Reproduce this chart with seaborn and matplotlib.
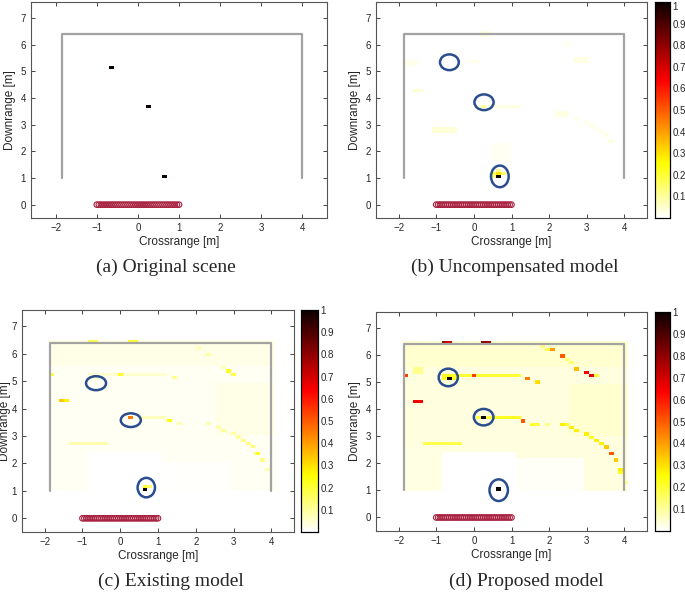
import numpy as np
import matplotlib
matplotlib.use("Agg")
import matplotlib.pyplot as plt
from matplotlib.patches import Ellipse
import seaborn as sns

# ---- scene ----
wall_x = [-1.85, -1.85, 4.0, 4.0]
wall_y = [1.0, 6.4, 6.4, 1.0]
array_x = [-1.0, -0.95, -0.9, -0.85, -0.8, -0.75, -0.7, -0.65, -0.6, -0.55, -0.5,
           -0.45, -0.4, -0.35, -0.3, -0.25, -0.2, -0.15, -0.1, -0.05, 0.0,
           0.05, 0.1, 0.15, 0.2, 0.25, 0.3, 0.35, 0.4, 0.45, 0.5,
           0.55, 0.6, 0.65, 0.7, 0.75, 0.8, 0.85, 0.9, 0.95, 1.0]
array_y = [0.0] * len(array_x)
x_ticks = [-2, -1, 0, 1, 2, 3, 4]
y_ticks = [0, 1, 2, 3, 4, 5, 6, 7]
cb_ticks = [0.1, 0.2, 0.3, 0.4, 0.5, 0.6, 0.7, 0.8, 0.9, 1.0]
cb_labels = ["0.1", "0.2", "0.3", "0.4", "0.5", "0.6", "0.7", "0.8", "0.9", "1"]
captions = ["(a) Original scene", "(b) Uncompensated model",
            "(c) Existing model", "(d) Proposed model"]

# image grid (cell size in metres)
GX0, DX, NX = -1.88, 0.13, 46
GY0, DY, NY = 0.99, 0.12, 46

# ---- (a) true targets: x, y, value ----
original_hot = [(-0.68, 5.15, 1.0), (0.26, 3.7, 1.0), (0.65, 1.0, 1.0)]

# ---- (b) uncompensated ----
uncomp_base = []
uncomp_streaks = [(-1.85, -1.5, 5.25, 5.4, 0.02), (-1.6, -1.4, 4.2, 4.35, 0.05),
                  (-0.2, 0.2, 5.3, 5.42, 0.02), (0.2, 0.4, 6.3, 6.45, 0.03),
                  (0.05, 1.3, 3.6, 3.78, 0.03), (-1.1, -0.4, 2.62, 2.85, 0.04),
                  (0.45, 1.0, 1.6, 2.3, 0.015), (2.7, 3.0, 5.35, 5.5, 0.03),
                  (2.2, 2.6, 3.3, 3.5, 0.03), (2.35, 2.5, 5.95, 6.1, 0.02)]
uncomp_hot = [(0.65, 1.0, 1.0), (0.65, 1.12, 0.3), (0.52, 1.12, 0.18), (0.78, 1.12, 0.15),
              (0.65, 1.24, 0.12), (0.52, 1.0, 0.12), (0.27, 3.72, 0.1),
              (2.8, 3.2, 0.03), (2.93, 3.1, 0.03), (3.07, 2.98, 0.03), (3.2, 2.86, 0.03),
              (3.33, 2.74, 0.03), (3.47, 2.57, 0.03), (3.6, 2.35, 0.04)]

# ---- (c) existing ----
existing_base = [(-1.9, 4.1, 0.99, 6.5, 0.015), (-0.9, 1.1, 0.99, 2.4, 0.0),
                 (1.1, 2.9, 0.99, 2.1, 0.005), (-1.9, 4.1, 5.6, 6.5, 0.025),
                 (2.5, 4.1, 3.0, 5.0, 0.025)]
existing_streaks = [(-0.55, 1.3, 5.23, 5.35, 0.05), (0.4, 1.2, 3.66, 3.78, 0.07),
                    (-1.3, -0.3, 2.66, 2.78, 0.08), (-0.8, -0.5, 5.1, 5.25, 0.05)]
existing_hot = [(-0.72, 6.4, 0.18), (-0.6, 6.4, 0.18), (0.25, 6.4, 0.2), (0.38, 6.4, 0.2),
                (-1.88, 5.3, 0.22), (-1.75, 5.3, 0.18), (-0.03, 5.3, 0.22),
                (-1.6, 4.3, 0.33), (-1.47, 4.3, 0.28), (0.27, 3.72, 0.45), (1.34, 3.58, 0.25),
                (2.9, 5.42, 0.22), (3.05, 5.3, 0.18), (1.46, 5.18, 0.12),
                (0.65, 1.0, 1.0), (0.65, 1.12, 0.22), (0.78, 1.12, 0.15),
                (1.57, 3.45, 0.08), (2.41, 3.45, 0.08), (2.67, 3.3, 0.08), (2.8, 3.2, 0.1),
                (2.93, 3.1, 0.1), (3.07, 2.98, 0.1), (3.2, 2.86, 0.12), (3.33, 2.74, 0.12),
                (3.47, 2.57, 0.15), (3.6, 2.35, 0.22), (3.72, 2.1, 0.12), (3.86, 1.8, 0.08),
                (2.14, 6.15, 0.08), (2.4, 6.02, 0.1), (2.8, 5.45, 0.08)]

# ---- (d) proposed ----
proposed_base = [(-1.9, 4.1, 0.99, 6.5, 0.035), (-0.9, 1.1, 0.99, 2.45, 0.0),
                 (1.1, 2.9, 0.99, 2.2, 0.01), (-1.9, 4.1, 5.6, 6.5, 0.05),
                 (2.5, 4.1, 3.0, 5.0, 0.05), (-1.9, -0.9, 0.99, 2.5, 0.03)]
proposed_streaks = [(-0.55, 1.3, 5.23, 5.35, 0.2), (0.4, 1.2, 3.66, 3.78, 0.22),
                    (-1.3, -0.3, 2.66, 2.78, 0.18), (-0.8, -0.5, 5.1, 5.25, 0.22),
                    (0.1, 0.4, 3.6, 3.8, 0.18), (-1.65, -1.4, 5.35, 5.5, 0.12)]
proposed_hot = [(-0.72, 6.4, 0.75), (-0.6, 6.4, 0.7), (0.25, 6.4, 0.8), (0.38, 6.4, 0.78),
                (-1.88, 5.3, 0.65), (-1.75, 5.3, 0.55), (-0.68, 5.15, 1.0), (-0.03, 5.3, 0.55),
                (1.46, 5.18, 0.45), (1.72, 5.05, 0.3), (-1.6, 4.3, 0.65), (-1.47, 4.3, 0.65),
                (0.26, 3.7, 1.0), (1.34, 3.58, 0.5), (2.14, 6.15, 0.4), (2.4, 6.02, 0.5),
                (2.8, 5.45, 0.35), (2.94, 5.4, 0.65), (3.07, 5.28, 0.65), (3.3, 5.2, 0.2),
                (0.65, 1.0, 1.0),
                (1.57, 3.45, 0.22), (1.7, 3.45, 0.18), (2.0, 3.42, 0.12), (2.41, 3.45, 0.28),
                (2.54, 3.4, 0.22), (2.67, 3.3, 0.28), (2.8, 3.2, 0.28), (2.93, 3.1, 0.28),
                (3.07, 2.98, 0.22), (3.2, 2.86, 0.28), (3.33, 2.74, 0.28), (3.47, 2.57, 0.33),
                (3.6, 2.35, 0.5), (3.72, 2.1, 0.33), (3.86, 1.8, 0.28), (3.86, 1.68, 0.22),
                (3.99, 1.3, 0.12), (1.85, 6.3, 0.12), (2.0, 6.2, 0.18), (2.54, 5.9, 0.15),
                (2.67, 5.75, 0.15)]

# annotation rings: centre x, centre y, width, height
rings_b = [(-0.65, 5.34, 0.5, 0.59), (0.27, 3.84, 0.51, 0.59), (0.69, 1.06, 0.47, 0.81)]
rings_c = [(-0.64, 4.93, 0.53, 0.51), (0.28, 3.58, 0.53, 0.5), (0.69, 1.12, 0.46, 0.71)]
rings_d = [(-0.68, 5.18, 0.51, 0.65), (0.26, 3.71, 0.52, 0.61), (0.66, 1.01, 0.49, 0.8)]


def build_grid(base, streaks, hot):
    g = np.zeros((NY, NX))
    xc = GX0 + DX * (np.arange(NX) + 0.5)
    yc = GY0 + DY * (np.arange(NY) + 0.5)
    X, Y = np.meshgrid(xc, yc)
    for x0, x1, y0, y1, v in base:
        g[(X >= x0) & (X <= x1) & (Y >= y0) & (Y <= y1)] = v
    for x0, x1, y0, y1, v in streaks:
        m = (X >= x0) & (X <= x1) & (Y >= y0) & (Y <= y1)
        g[m] = np.maximum(g[m], v)
    for x, y, v in hot:
        g[int((y - GY0) // DY), int((x - GX0) // DX)] = v
    return g


sns.set_style("ticks")
plt.rcParams["font.family"] = ["Liberation Sans", "DejaVu Sans"]
plt.rcParams["xtick.direction"] = "in"
plt.rcParams["ytick.direction"] = "in"

fig = plt.figure(figsize=(6.85, 5.98), dpi=100)


def panel(rect, grid, cax_rect, rings, label_pad, top_label_down=False):
    ax = fig.add_axes(rect)
    ax.set_xlim(-2.6, 4.6)
    ax.set_ylim(-0.5, 7.6)
    hax = ax.inset_axes([GX0, GY0, NX * DX, NY * DY], transform=ax.transData)
    hax.set_zorder(0.5)
    cax = fig.add_axes(cax_rect) if cax_rect else None
    sns.heatmap(np.flipud(grid), ax=hax, cmap="hot_r", vmin=0, vmax=1,
                cbar=cax is not None, cbar_ax=cax, xticklabels=False, yticklabels=False,
                cbar_kws={"ticks": cb_ticks} if cax is not None else None)
    hax.set_axis_off()
    sns.lineplot(x=wall_x, y=wall_y, sort=False, estimator=None, color="#a3a3a3",
                 lw=1.6, ax=ax, zorder=2)
    sns.scatterplot(x=array_x, y=array_y, ax=ax, marker="o", s=16, facecolor="none",
                    edgecolor="#a8203f", linewidth=0.8, zorder=3)
    for cx, cy, w, h in rings:
        ax.add_patch(Ellipse((cx, cy), w, h, fill=False, ec="#2a4d8f", lw=1.8, zorder=4))
    ax.set_xticks(x_ticks)
    ax.set_yticks(y_ticks)
    ax.tick_params(labelsize=7, length=3, top=True, right=True, width=0.6)
    for s in ax.spines.values():
        s.set_color("#555555")
        s.set_linewidth(0.8)
    ax.set_xlabel("Crossrange [m]", fontsize=8.5, labelpad=2)
    ax.set_ylabel("Downrange [m]", fontsize=8.5, labelpad=label_pad)
    if cax is not None:
        cax.set_yticklabels(cb_labels)
        cax.tick_params(labelsize=7, length=3, direction="in", width=0.6, pad=2)
        if top_label_down:
            cax.get_yticklabels()[-1].set_va("top")
        for s in cax.spines.values():
            s.set_visible(True)
            s.set_color("black")
            s.set_linewidth(0.8)
    return ax


panel([31 / 685, 1 - 218 / 598, 296 / 685, 216 / 598],
      build_grid([], [], original_hot), None, [], 3)
panel([376 / 685, 1 - 218 / 598, 271 / 685, 216 / 598],
      build_grid(uncomp_base, uncomp_streaks, uncomp_hot),
      [655 / 685, 1 - 218 / 598, 15 / 685, 216 / 598], rings_b, 3, top_label_down=True)
panel([22 / 685, 1 - 532 / 598, 272 / 685, 222 / 598],
      build_grid(existing_base, existing_streaks, existing_hot),
      [301 / 685, 1 - 532 / 598, 17 / 685, 222 / 598], rings_c, 0.5)
panel([376 / 685, 1 - 531 / 598, 271 / 685, 219 / 598],
      build_grid(proposed_base, proposed_streaks, proposed_hot),
      [655 / 685, 1 - 531 / 598, 15 / 685, 219 / 598], rings_d, 3)

cap_pos = [(166, 267), (515, 267), (171, 581), (526, 581)]
for (cx, cy), txt in zip(cap_pos, captions):
    fig.text(cx / 685, 1 - cy / 598, txt, ha="center", va="center",
             fontsize=14, family="Liberation Serif")

fig.savefig("out.png", dpi=100)
